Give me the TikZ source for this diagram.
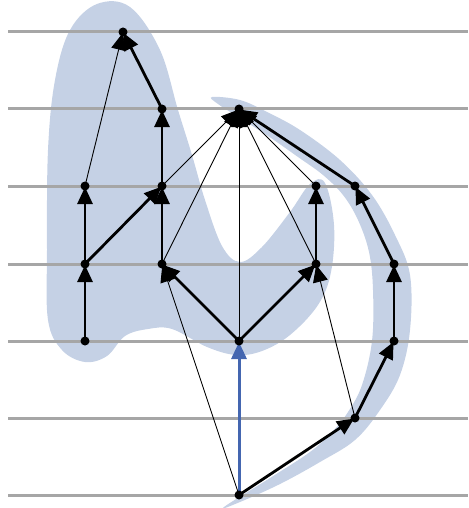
\documentclass[tikz,border=0pt]{standalone}
\usetikzlibrary{arrows.meta}
\definecolor{blobblue}{RGB}{197,209,229}
\definecolor{edgeblue}{RGB}{68,102,176}
\pgfdeclarelayer{bg}
\pgfdeclarelayer{edges}
\pgfsetlayers{bg,edges,main}
\begin{document}
\begin{tikzpicture}[x=1pt, y=-1pt,
    dot/.style={circle, fill=black, inner sep=0pt, minimum size=9pt},
    tipped/.style={-{Triangle[length=17pt, width=15pt]}, shorten >=1pt},
    heavy/.style={tipped, line width=2.8pt},
    light/.style={tipped, line width=0.9pt},
    blueline/.style={tipped, line width=3pt, edgeblue},
    guide/.style={line width=3pt, gray!70},
    blob/.style={fill=blobblue, draw=none}]
    \useasboundingbox (0,0) rectangle (468,508);

    % Vertices, row by row
    \node[dot] (r0) at (123,32) {};
    \node[dot] (r1a) at (162,109) {};
    \node[dot] (r1b) at (239,109) {};
    \node[dot] (r2a) at (85,186) {};
    \node[dot] (r2b) at (162,186) {};
    \node[dot] (r2c) at (316,186) {};
    \node[dot] (r2d) at (355,186) {};
    \node[dot] (r3a) at (85,264) {};
    \node[dot] (r3b) at (162,264) {};
    \node[dot] (r3c) at (316,264) {};
    \node[dot] (r3d) at (394,264) {};
    \node[dot] (r4a) at (85,341) {};
    \node[dot] (r4b) at (239,341) {};
    \node[dot] (r4c) at (394,341) {};
    \node[dot] (r5) at (355,418) {};
    \node[dot] (r6) at (239,495) {};

    % Shaded regions and level lines
    \begin{pgfonlayer}{bg}
        \fill[blob] plot[smooth cycle, tension=0.6] coordinates {
            (97,4) (130,7) (160,50) (178,110) (192,155) (205,200) (222,246)
            (240,262) (262,247) (290,212) (310,184) (325,183) (334,225)
            (331,272) (318,305) (290,335) (262,351) (236,355) (207,347)
            (172,329) (148,329) (125,336) (107,356) (85,362) (62,350)
            (48,320) (47,250) (48,150) (55,80) (70,30)};
        \fill[blob] plot[smooth cycle, tension=0.6] coordinates {
            (212,97) (240,100) (267,112) (300,130) (340,160) (372,195)
            (395,235) (410,275) (410,330) (400,375) (380,410) (355,440)
            (320,462) (280,484) (240,502) (224,507)
            (270,478) (310,452) (332,432) (348,412) (362,385) (372,341)
            (373,290) (369,252) (358,220) (343,195) (323,175) (298,157)
            (268,136) (240,118) (218,104)};
        \foreach \lev in {32,109,186,264,341,418,495}
            \draw[guide] (8,\lev) -- (468,\lev);
    \end{pgfonlayer}

    % Connectors
    \begin{pgfonlayer}{edges}
        \draw[light] (r2a.center) -- (r0.center);
        \draw[light] (r2b.center) -- (r1b.center);
        \draw[light] (r3b.center) -- (r1b.center);
        \draw[light] (r4b.center) -- (r1b.center);
        \draw[light] (r3c.center) -- (r1b.center);
        \draw[light] (r2c.center) -- (r1b.center);
        \draw[light] (r5.center) -- (r3c.center);
        \draw[light] (r6.center) -- (r3b.center);

        \draw[heavy] (r4a.center) -- (r3a.center);
        \draw[heavy] (r3a.center) -- (r2a.center);
        \draw[heavy] (r3a.center) -- (r2b.center);
        \draw[heavy] (r3b.center) -- (r2b.center);
        \draw[heavy] (r2b.center) -- (r1a.center);
        \draw[heavy] (r1a.center) -- (r0.center);
        \draw[heavy] (r4b.center) -- (r3b.center);
        \draw[heavy] (r4b.center) -- (r3c.center);
        \draw[heavy] (r3c.center) -- (r2c.center);
        \draw[heavy] (r6.center) -- (r5.center);
        \draw[heavy] (r5.center) -- (r4c.center);
        \draw[heavy] (r4c.center) -- (r3d.center);
        \draw[heavy] (r3d.center) -- (r2d.center);
        \draw[heavy] (r2d.center) -- (r1b.center);
        \draw[blueline] (r6.center) -- (r4b.center);
    \end{pgfonlayer}
\end{tikzpicture}
\end{document}
